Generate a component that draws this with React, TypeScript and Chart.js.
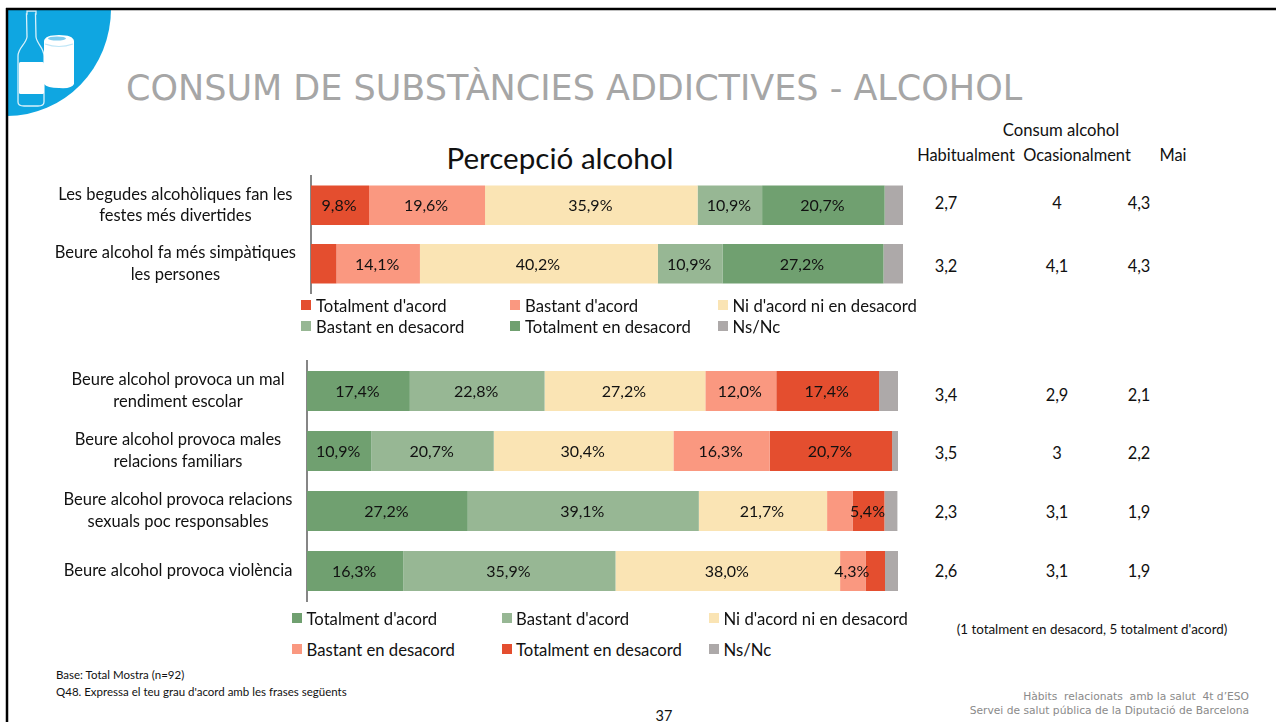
import React, { useEffect, useRef } from "react";
import { Chart, registerables } from "chart.js";

Chart.register(...registerables);

// ---------- data ----------
const topCategories = [
  ["Les begudes alcohòliques fan les", "festes més divertides"],
  ["Beure alcohol fa més simpàtiques", "les persones"],
];
const topSeriesNames = ["Totalment d'acord", "Bastant d'acord", "Ni d'acord ni en desacord", "Bastant en desacord", "Totalment en desacord", "Ns/Nc"];
const topSeries1 = [9.8, 4.3];
const topSeries2 = [19.6, 14.1];
const topSeries3 = [35.9, 40.2];
const topSeries4 = [10.9, 10.9];
const topSeries5 = [20.7, 27.2];
const topSeries6 = [3.3, 3.3];
const topHiddenLabels = ["0:1", "5:0", "5:1"];

const bottomCategories = [
  ["Beure alcohol provoca un mal", "rendiment escolar"],
  ["Beure alcohol provoca males", "relacions familiars"],
  ["Beure alcohol provoca relacions", "sexuals poc responsables"],
  ["Beure alcohol provoca violència"],
];
const bottomSeriesNames = ["Totalment d'acord", "Bastant d'acord", "Ni d'acord ni en desacord", "Bastant en desacord", "Totalment en desacord", "Ns/Nc"];
const bottomSeries1 = [17.4, 10.9, 27.2, 16.3];
const bottomSeries2 = [22.8, 20.7, 39.1, 35.9];
const bottomSeries3 = [27.2, 30.4, 21.7, 38.0];
const bottomSeries4 = [12.0, 16.3, 4.3, 4.3];
const bottomSeries5 = [17.4, 20.7, 5.4, 3.3];
const bottomSeries6 = [3.3, 1.1, 2.2, 2.2];
const bottomHiddenLabels = ["3:2", "4:3", "5:0", "5:1", "5:2", "5:3"];

const sideHeaders = ["Habitualment", "Ocasionalment", "Mai"];
const sideTop = [["2,7", "4", "4,3"], ["3,2", "4,1", "4,3"]];
const sideBottom = [["3,4", "2,9", "2,1"], ["3,5", "3", "2,2"], ["2,3", "3,1", "1,9"], ["2,6", "3,1", "1,9"]];

const RED = "#E44E2F";
const SALMON = "#FA9880";
const CREAM = "#FAE4B4";
const LIGHT_GREEN = "#97B794";
const GREEN = "#70A070";
const GRAY = "#ADA9A9";
const topColors = [RED, SALMON, CREAM, LIGHT_GREEN, GREEN, GRAY];
const bottomColors = [GREEN, LIGHT_GREEN, CREAM, SALMON, RED, GRAY];

const FONT = "Lato, sans-serif";

type BarProps = {
  categories: string[][];
  names: string[];
  series: number[][];
  colors: string[];
  hidden: string[];
  left: number; top: number; width: number; height: number;
  axisWidth: number; padRight: number; padV: number; tickPad: number; barPct: number;
};

function StackedBars(p: BarProps) {
  const ref = useRef<HTMLCanvasElement>(null);
  useEffect(() => {
    const labelPlugin = {
      id: "segmentLabels",
      afterDatasetsDraw(chart: any) {
        const ctx = chart.ctx;
        ctx.save();
        ctx.font = `16px ${FONT}`;
        ctx.fillStyle = "#111";
        ctx.textAlign = "center";
        ctx.textBaseline = "middle";
        chart.data.datasets.forEach((ds: any, di: number) => {
          chart.getDatasetMeta(di).data.forEach((el: any, i: number) => {
            if (p.hidden.includes(`${di}:${i}`)) return;
            const c = el.getCenterPoint();
            ctx.fillText(ds.data[i].toFixed(1).replace(".", ",") + "%", c.x - 1, c.y + 1);
          });
        });
        ctx.restore();
      },
    };
    const chart = new Chart(ref.current!, {
      type: "bar",
      data: {
        labels: p.categories,
        datasets: p.series.map((d, i) => ({
          label: p.names[i], data: d, backgroundColor: p.colors[i], borderWidth: 0,
          barPercentage: p.barPct, categoryPercentage: 1,
        })),
      },
      options: {
        indexAxis: "y",
        responsive: false,
        animation: false,
        layout: { padding: { left: 0, right: p.padRight, top: p.padV, bottom: p.padV } },
        plugins: { legend: { display: false }, tooltip: { enabled: false }, title: { display: false } },
        scales: {
          x: { stacked: true, min: 0, max: 100, display: false },
          y: {
            stacked: true,
            grid: { display: false, drawTicks: false },
            border: { display: true, color: "#868686", width: 2 },
            afterFit(s: any) { s.width = p.axisWidth; s.paddingTop = 0; s.paddingBottom = 0; },
            ticks: { crossAlign: "center", padding: p.tickPad, color: "#111", font: { family: FONT, size: 16.5, lineHeight: 1.32 }, autoSkip: false },
          },
        },
      },
      plugins: [labelPlugin],
    } as any);
    return () => chart.destroy();
  }, []);
  return <canvas ref={ref} width={p.width} height={p.height} style={{ position: "absolute", left: p.left, top: p.top, width: p.width, height: p.height }} />;
}

const T = ({ x, y, s, size = 16.4, color = "#111", align = "center", family = FONT, extra = {} }: any) => (
  <div style={{
    position: "absolute", left: x, top: y + 1, whiteSpace: "pre", fontFamily: family, fontSize: size, color, lineHeight: 1,
    transform: `translate(${align === "center" ? "-50%" : align === "right" ? "-100%" : "0"}, -50%)`, ...extra,
  }}>{s}</div>
);

function Legend({ names, colors, xs, txs, ys, size }: any) {
  return (
    <>
      {names.map((n: string, i: number) => {
        const col = i % 3, row = Math.floor(i / 3);
        return (
          <React.Fragment key={n}>
            <div style={{ position: "absolute", left: xs[col], top: ys[row] - 5, width: 10, height: 10, background: colors[i] }} />
            <T x={txs[col]} y={ys[row]} s={n} align="left" size={size} />
          </React.Fragment>
        );
      })}
    </>
  );
}

export default function App() {
  return (
    <div style={{ position: "fixed", left: 0, top: 0, width: 1276, height: 722, background: "#fff", overflow: "hidden" }}>
      {/* slide decoration */}
      <svg width={1276} height={722} style={{ position: "absolute", left: 0, top: 0 }}>
        <path d="M7 9 H111 A104 107 0 0 1 7 116 Z" fill="#0FA6E1" />
        <path d="M27 11 H36 V14 H35.5 L36 37 C37 44 44 48 44 56 V102 Q44 106 38 106 H24 Q18 106 18 102 V56 C18 48 26 44 27 37 L26.5 14 H27 Z" fill="none" stroke="#D8F1FB" strokeWidth="1.3" />
        <rect x="19" y="62" width="25" height="32" rx="1.5" fill="#fff" />
        <path d="M44 41 Q45 35 59 35 Q73 35 74 41 V84 Q72 89 59 88 Q47 88 44 84 Z" fill="#fff" />
        <path d="M45 44 Q59 49 73 44" fill="none" stroke="#BFE6F7" strokeWidth="1.2" />
        <ellipse cx="57" cy="38.5" rx="9" ry="2" fill="#7CCBEF" />
        <line x1="6" y1="9" x2="1276" y2="9" stroke="#000" strokeWidth="2.5" />
        <line x1="7" y1="8" x2="7" y2="722" stroke="#000" strokeWidth="2.5" />
      </svg>

      <T x={126} y={87} s="CONSUM DE SUBSTÀNCIES ADDICTIVES - ALCOHOL" align="left" size={35} color="#A6A6A6" family="'DejaVu Sans', sans-serif" />
      <T x={560} y={157} s="Percepció alcohol" size={29.6} />
      <T x={1061} y={129} s="Consum alcohol" size={16.7} />
      <T x={966} y={154} s={sideHeaders[0]} />
      <T x={1077} y={154} s={sideHeaders[1]} />
      <T x={1173} y={154} s={sideHeaders[2]} />

      <StackedBars categories={topCategories} names={topSeriesNames}
        series={[topSeries1, topSeries2, topSeries3, topSeries4, topSeries5, topSeries6]}
        colors={topColors} hidden={topHiddenLabels}
        left={0} top={166} width={920} height={137}
        axisWidth={311} padRight={17} padV={10} tickPad={15} barPct={0.675} />

      <Legend names={topSeriesNames} colors={topColors} xs={[301, 510, 718]} txs={[316, 525, 732.5]} ys={[305, 326]} size={16.7} />

      <StackedBars categories={bottomCategories} names={bottomSeriesNames}
        series={[bottomSeries1, bottomSeries2, bottomSeries3, bottomSeries4, bottomSeries5, bottomSeries6]}
        colors={bottomColors} hidden={bottomHiddenLabels}
        left={0} top={351} width={920} height={260}
        axisWidth={307} padRight={22} padV={10} tickPad={14.5} barPct={0.667} />

      <Legend names={bottomSeriesNames} colors={bottomColors} xs={[292, 501.5, 709]} txs={[306.5, 516, 723.5]} ys={[618, 649]} size={16.7} />

      {sideTop.map((r, i) => r.map((v, j) => <T key={`t${i}${j}`} x={[946, 1057, 1139][j]} y={[202, 265][i]} s={v} />))}
      {sideBottom.map((r, i) => r.map((v, j) => <T key={`b${i}${j}`} x={[946, 1057, 1139][j]} y={[394, 452, 511, 570][i]} s={v} />))}

      <T x={1092} y={629} s="(1 totalment en desacord, 5 totalment d'acord)" size={13.4} />
      <T x={56} y={674} s="Base: Total Mostra (n=92)" align="left" size={11.5} />
      <T x={56} y={691} s="Q48. Expressa el teu grau d'acord amb les frases següents" align="left" size={11.5} />
      <T x={1249} y={696} s="Hàbits  relacionats  amb la salut  4t d’ESO" align="right" size={10.7} color="#8a8a8a" family="'DejaVu Sans', sans-serif" />
      <T x={1249} y={710} s="Servei de salut pública de la Diputació de Barcelona" align="right" size={10.7} color="#8a8a8a" family="'DejaVu Sans', sans-serif" />
      <T x={664} y={715} s="37" size={14.5} />
    </div>
  );
}
